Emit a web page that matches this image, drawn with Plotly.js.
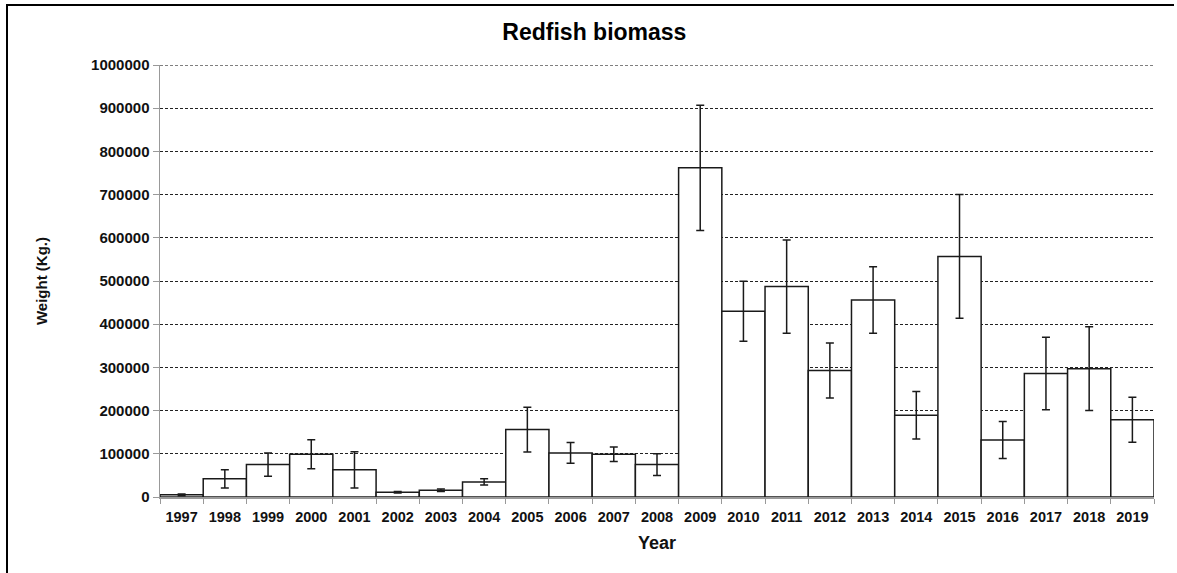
<!DOCTYPE html>
<html>
<head>
<meta charset="utf-8">
<script src="https://cdn.plot.ly/plotly-3.0.1.min.js"></script>
<style>
html,body{margin:0;padding:0;background:#fff;}
#wrap{position:relative;width:1177px;height:573px;overflow:hidden;}
#chart{width:1177px;height:573px;}
#frame{position:absolute;left:6px;top:4px;width:1166px;height:600px;border-top:2px solid #000;border-left:2px solid #000;pointer-events:none;}
</style>
</head>
<body>
<div id="wrap"><div id="chart"></div><div id="frame"></div></div>
<script>
const years = ["1997","1998","1999","2000","2001","2002","2003","2004","2005","2006","2007","2008","2009","2010","2011","2012","2013","2014","2015","2016","2017","2018","2019"];
const biomass = [5000,42000,75000,99000,63000,11000,15500,35000,156000,102000,99000,75000,762000,430000,487000,293000,456000,189000,557000,132000,286000,297000,179000];
const errors = [2000,21000,27000,33500,42000,2000,3000,7000,52000,24000,17000,25000,145000,69500,108000,63600,77000,55000,143000,43000,84000,97000,52000];
const yTicks = [0,100000,200000,300000,400000,500000,600000,700000,800000,900000,1000000];

const font = "Liberation Sans, Arial, sans-serif";
const trace = {
  type: "bar",
  x: years,
  y: biomass,
  marker: {color: "#ffffff", line: {color: "#1a1a1a", width: 1.5}},
  error_y: {type: "data", array: errors, visible: true, color: "#1a1a1a", thickness: 1.5, width: 4},
  hoverinfo: "x+y"
};
const topTick = yTicks[yTicks.length - 1];
const layout = {
  width: 1177, height: 573,
  margin: {l: 160, r: 23, t: 65, b: 76},
  paper_bgcolor: "#ffffff", plot_bgcolor: "#ffffff",
  showlegend: false,
  bargap: 0,
  font: {family: font, color: "#111", size: 14},
  title: {text: "<b>Redfish biomass</b>", x: 0.505, xanchor: "center", y: 0.945, yanchor: "middle", font: {family: font, size: 23, color: "#000"}},
  xaxis: {
    type: "category",
    range: [-0.5, 22.5],
    tickson: "boundaries",
    ticks: "outside", ticklen: 5, tickcolor: "#999", tickwidth: 1,
    ticklabelstandoff: 6,
    showline: true, linecolor: "#999", linewidth: 1.5,
    showgrid: false,
    tickfont: {family: font, size: 14.5, color: "#111", weight: "bold"},
    title: {text: "<b>Year</b>", font: {family: font, size: 18, color: "#111"}, standoff: 12}
  },
  yaxis: {
    range: [0, topTick],
    tickvals: yTicks,
    ticktext: yTicks.map(v => String(v)),
    ticks: "outside", ticklen: 6, tickcolor: "#999", tickwidth: 1,
    showline: true, linecolor: "#999", linewidth: 1.5,
    showgrid: true, gridcolor: "#222", gridwidth: 1, griddash: "3px,2px",
    zeroline: false,
    tickfont: {family: font, size: 15, color: "#111", weight: "bold"},
    title: {text: "<b>Weight (Kg.)</b>", font: {family: font, size: 15, color: "#111"}, standoff: 40}
  },
  shapes: [{
    type: "line", xref: "paper", yref: "y", x0: 0, x1: 1, y0: topTick, y1: topTick,
    line: {color: "#000", width: 1.2, dash: "3px,2px"}, layer: "below"
  }]
};
Plotly.newPlot("chart", [trace], layout, {displayModeBar: false, staticPlot: true});
</script>
</body>
</html>
